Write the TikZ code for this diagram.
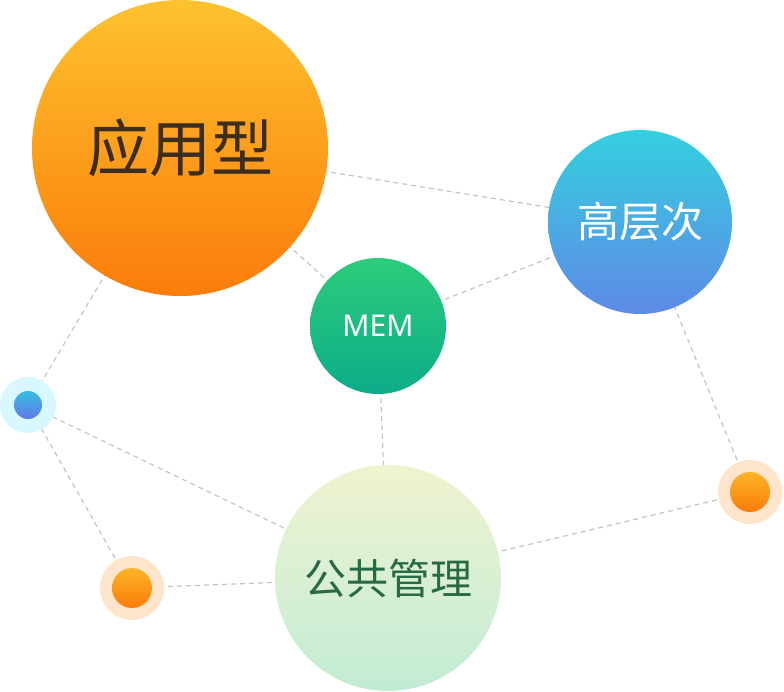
\documentclass[tikz,border=0pt]{standalone}
\usepackage{fontspec}
\newfontfamily\cjk{Noto Sans CJK SC}
\setmainfont{Noto Sans}
\definecolor{eg}{HTML}{C4C4C4}
\begin{document}
\begin{tikzpicture}[x=1pt,y=-1pt,
  ball/.style={circle,inner sep=0pt,minimum size=#1},
  link/.style={draw=eg,dashed,line width=1.2pt,dash pattern=on 5pt off 4pt}]
\useasboundingbox (0,0) rectangle (784,692);
% edges first
\coordinate (a) at (180,148);
\coordinate (h) at (640,222);
\coordinate (m) at (378,326);
\coordinate (g) at (388,578);
\coordinate (b) at (28,405);
\coordinate (o1) at (132,588);
\coordinate (o2) at (750,492);
\draw[link] (a)--(h);
\draw[link] (a)--(m);
\draw[link] (m)--(h);
\draw[link] (m)--(g);
\draw[link] (a)--(b);
\draw[link] (b)--(g);
\draw[link] (b)--(o1);
\draw[link] (o1)--(g);
\draw[link] (g)--(o2);
\draw[link] (h)--(o2);
% halos
\node[ball=56pt,fill=blue!20!cyan!15] (bh) at (b) {};
\node[ball=64pt,fill=orange!20] (o1h) at (o1) {};
\node[ball=64pt,fill=orange!20] (o2h) at (o2) {};
% nodes
\node[ball=296pt,top color={rgb,255:red,253;green,194;blue,47},bottom color={rgb,255:red,251;green,124;blue,10},font=\cjk\fontsize{62}{62}\selectfont,text={rgb,255:red,60;green,45;blue,30}] (na) at (a) {应用型};
\node[ball=184pt,top color={rgb,255:red,52;green,208;blue,224},bottom color={rgb,255:red,95;green,137;blue,230},font=\cjk\fontsize{42}{42}\selectfont,text=white] (nh) at (h) {高层次};
\node[ball=136pt,top color={rgb,255:red,46;green,204;blue,122},bottom color={rgb,255:red,12;green,172;blue,138},font=\fontsize{30}{30}\selectfont,text=white] (nm) at (m) {MEM};
\node[ball=226pt,top color={rgb,255:red,240;green,243;blue,208},bottom color={rgb,255:red,194;green,236;blue,212},font=\cjk\fontsize{42}{42}\selectfont,text={rgb,255:red,40;green,105;blue,70}] (ng) at (g) {公共管理};
\node[ball=28pt,top color={rgb,255:red,55;green,190;blue,225},bottom color={rgb,255:red,95;green,120;blue,230}] (nb) at (b) {};
\node[ball=40pt,top color={rgb,255:red,253;green,180;blue,40},bottom color={rgb,255:red,251;green,124;blue,10}] (no1) at (o1) {};
\node[ball=40pt,top color={rgb,255:red,253;green,180;blue,40},bottom color={rgb,255:red,251;green,124;blue,10}] (no2) at (o2) {};
\end{tikzpicture}
\end{document}
